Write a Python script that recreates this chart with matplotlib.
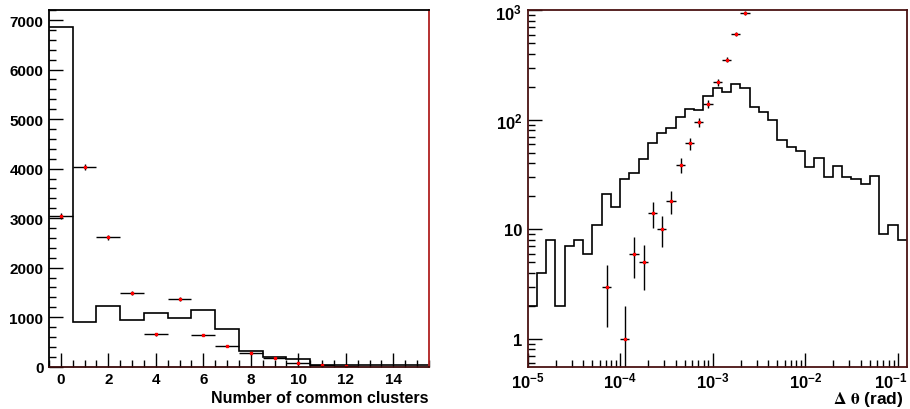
import numpy as np
import matplotlib
matplotlib.use("Agg")
import matplotlib.pyplot as plt
import matplotlib.transforms as mtransforms
from matplotlib.ticker import MultipleLocator, LogLocator, FuncFormatter, NullFormatter

plt.rcParams['font.family'] = ['Liberation Sans', 'DejaVu Sans']
plt.rcParams['font.weight'] = 'bold'
plt.rcParams['font.size'] = 11
plt.rcParams['mathtext.fontset'] = 'custom'
plt.rcParams['mathtext.rm'] = 'Liberation Sans:bold'
plt.rcParams['mathtext.bf'] = 'Liberation Sans:bold'
plt.rcParams['mathtext.it'] = 'Liberation Sans:bold'

# Left: number of common clusters (bins 0..15)
clusters_hist = [6860, 909, 1232, 950, 1091, 984, 1152, 762, 323, 202, 156, 30, 25, 30, 30, 28]
clusters_pts = [3040, 4035, 2614, 1483, 654, 1361, 640, 418, 283, 176, 75, 34, 8]

# Right: delta theta, 10 log bins per decade from 1e-5
dtheta_hist = [2, 4, 8, 2, 7, 8, 6, 11, 21, 16,
               29, 33, 44, 62, 76, 85, 107, 126, 124, 164,
               196, 178, 215, 196, 131, 119, 100, 65, 57, 52,
               37, 45, 30, 38, 30, 29, 26, 31, 9, 11, 8]
dtheta_pts_bin = [8, 10, 11, 12, 13, 14, 15, 16, 17, 18, 19, 20, 21, 22, 23]
dtheta_pts = [3, 1, 6, 5, 14, 10, 18, 39, 61, 95, 139, 220, 355, 609, 949]

fig = plt.figure(figsize=(9.1, 4.1), dpi=100)
ax1 = fig.add_axes([0.0538, 0.1032, 0.4176, 0.870])
ax2 = fig.add_axes([0.5799, 0.1032, 0.4168, 0.870])

# ---- left panel
edges1 = np.arange(-0.5, 16.0, 1.0)
ax1.stairs(clusters_hist, edges1, baseline=None, color='black', lw=1.2)
x1 = np.arange(len(clusters_pts))
y1 = np.array(clusters_pts, dtype=float)
ax1.errorbar(x1, y1, xerr=0.5, yerr=np.sqrt(y1), fmt='none', ecolor='black', elinewidth=1.0, capsize=0)
ax1.plot(x1, y1, 's', color='red', ms=2.0, mec='red')
ax1.set_xlim(-0.5, 15.5)
ax1.set_ylim(0, 7203)
ax1.xaxis.set_major_locator(MultipleLocator(2))
ax1.xaxis.set_minor_locator(MultipleLocator(0.5))
ax1.yaxis.set_major_locator(MultipleLocator(1000))
ax1.yaxis.set_minor_locator(MultipleLocator(200))
ax1.set_xlabel("Number of common clusters", ha='right', x=1.0, labelpad=3,
               fontweight='bold', fontsize=11.5)

# ---- right panel
edges2 = 10.0 ** (-5 + 0.1 * np.arange(len(dtheta_hist) + 1))
ax2.stairs(dtheta_hist, edges2, baseline=None, color='black', lw=1.2)
lo = edges2[dtheta_pts_bin]
hi = edges2[np.array(dtheta_pts_bin) + 1]
xc = (lo + hi) / 2
y2 = np.array(dtheta_pts, dtype=float)
err = np.sqrt(y2)
ax2.errorbar(xc, y2, xerr=[xc - lo, hi - xc], yerr=[np.minimum(err, y2 * 0.999), err],
             fmt='none', ecolor='black', elinewidth=1.0, capsize=0)
ax2.plot(xc, y2, 's', color='red', ms=2.0, mec='red')
ax2.set_xscale('log')
ax2.set_yscale('log')
ax2.set_xlim(1e-5, 10 ** -0.9)
ax2.set_ylim(0.555, 1010)
ax2.xaxis.set_major_locator(LogLocator(base=10, numticks=10))
ax2.xaxis.set_minor_locator(LogLocator(base=10, subs=np.arange(2, 10), numticks=20))
ax2.yaxis.set_major_locator(LogLocator(base=10, numticks=10))
ax2.yaxis.set_minor_locator(LogLocator(base=10, subs=np.arange(2, 10), numticks=20))


def logfmt(v, pos):
    e = int(round(np.log10(v)))
    if e == 0:
        return "1"
    if e == 1:
        return "10"
    return r"10$^{\mathbf{%d}}$" % e


ax2.xaxis.set_major_formatter(FuncFormatter(logfmt))
ax2.yaxis.set_major_formatter(FuncFormatter(logfmt))
ax2.xaxis.set_minor_formatter(NullFormatter())
ax2.yaxis.set_minor_formatter(NullFormatter())
ax2.set_xlabel(r"$\mathrm{\Delta\ \theta}$ (rad)", ha='right', x=0.99, labelpad=-1,
               math_fontfamily='stix', fontweight='bold', fontsize=12.5)

for ax in (ax1, ax2):
    ax.tick_params(which='major', direction='in', length=10, width=1.0, pad=4,
                   top=False, right=False, labelsize=11)
    ax.tick_params(which='minor', direction='in', length=5, width=1.0,
                   top=False, right=False)
    for s in ax.spines.values():
        s.set_linewidth(1.3)
ax2.tick_params(which='major', labelsize=12)
ax2.tick_params(axis='x', which='major', pad=3)

ax1.spines['left'].set_color('black')
ax1.spines['top'].set_color('black')
ax1.spines['bottom'].set_color('#3a0a0a')
ax1.spines['right'].set_color('#b02020')
for s in ax2.spines.values():
    s.set_color('#4a1212')

# keep the last x label (10^-1) inside the figure
fig.canvas.draw()
xlabels = ax2.get_xticklabels()
shift = mtransforms.ScaledTranslation(-5 / 72, 0, fig.dpi_scale_trans)
for lab in xlabels:
    if lab.get_text().endswith("{-1}}$"):
        lab.set_transform(lab.get_transform() + shift)

fig.savefig("out.png", dpi=100, facecolor='white')
